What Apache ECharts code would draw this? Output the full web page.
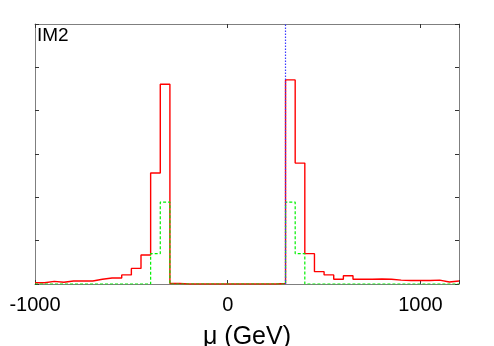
<!DOCTYPE html>
<html>
<head>
<meta charset="utf-8">
<script src="https://cdn.jsdelivr.net/npm/echarts@6/dist/echarts.min.js"></script>
<style>html,body{margin:0;padding:0;background:#fff;}#c{width:494px;height:346px;}</style>
</head>
<body>
<div id="c"></div>
<script>
// Bin left edges (GeV), bin width 50
const binEdges = [-1000,-950,-900,-850,-800,-750,-700,-650,-600,-550,-500,-450,-400,-350,-300,-250,-200,-150,-100,-50,
  0,50,100,150,200,250,300,350,400,450,500,550,600,650,700,750,800,850,900,950,1000,1050,1100,1150,1200];
const redValues = [0.03,0.06,0.04,0.07,0.07,0.07,0.11,0.14,0.14,0.21,0.36,0.67,2.56,4.61,0.01,0,0,0,0,0,
  0,0,0,0,0,0.01,4.71,2.79,0.70,0.285,0.21,0.11,0.19,0.11,0.11,0.115,0.11,0.09,0.08,0.08,0.08,0.09,0.045,0.07];
const greenValues = [0,0,0,0,0,0,0,0,0,0,0,0,0.70,1.89,0,0,0,0,0,0,
  0,0,0,0,0,0,1.89,0.70,0,0,0,0,0,0,0,0,0,0,0,0,0,0,0,0];
const xTickLabels = ['-1000','0','1000'];
const markerX = 297;
const panelLabel = 'IM2';
const xTitle = 'μ (GeV)';

function stepData(vals){
  const d = vals.map((v,i)=>[binEdges[i], v]);
  d.push([binEdges[vals.length], vals[vals.length-1]]);
  return d;
}

const chart = echarts.init(document.getElementById('c'), null, {renderer:'canvas'});
const axisGray = '#7f7f7f';
const FONT = 'Liberation Sans, Arial, Helvetica, sans-serif';
chart.setOption({
  animation:false,
  backgroundColor:'#fff',
  grid:{left:35,right:35,top:24,bottom:62,containLabel:false,outerBoundsMode:'none'},
  xAxis:[{
    type:'value', min:-1000, max:1200, interval:1000, position:'bottom',
    name:xTitle, nameLocation:'middle', nameGap:41,
    nameTextStyle:{fontFamily:FONT,fontSize:25,color:'#000'},
    axisLine:{onZero:false,lineStyle:{color:axisGray,width:1}},
    axisTick:{inside:true,length:4,lineStyle:{color:'#333'}},
    axisLabel:{fontFamily:FONT,fontSize:20,color:'#000',margin:11,
      formatter:function(v){const s=String(v);return xTickLabels.indexOf(s)>=0?s:'';}},
    splitLine:{show:false}
  },{
    type:'value', min:-1000, max:1200, interval:1000, position:'top',
    axisLine:{onZero:false,lineStyle:{color:axisGray,width:1}},
    axisTick:{inside:true,length:4,lineStyle:{color:'#333'}},
    axisLabel:{show:false}, splitLine:{show:false}
  }],
  yAxis:[{
    type:'value', min:0, max:6, interval:1, position:'left',
    axisLine:{show:true,onZero:false,lineStyle:{color:axisGray,width:1}},
    axisTick:{show:true,inside:true,length:4,lineStyle:{color:'#333'}},
    axisLabel:{show:false}, splitLine:{show:false}
  },{
    type:'value', min:0, max:6, interval:1, position:'right',
    axisLine:{show:true,onZero:false,lineStyle:{color:axisGray,width:1}},
    axisTick:{show:true,inside:true,length:4,lineStyle:{color:'#333'}},
    axisLabel:{show:false}, splitLine:{show:false}
  }],
  series:[{
    type:'line', step:'end', data:stepData(greenValues), showSymbol:false, silent:true,
    lineStyle:{color:'#00f000',width:1.2,type:[3,2]}, z:3
  },{
    type:'line', step:'end', data:stepData(redValues), showSymbol:false, silent:true,
    lineStyle:{color:'#ff0000',width:1.4}, z:2,
    markLine:{silent:true,symbol:['none','none'],label:{show:false},
      lineStyle:{color:'#3a3aff',type:[1.5,1.5],width:1.2},
      data:[{xAxis:markerX}]}
  }],
  graphic:[{type:'text',left:37,top:26,style:{text:panelLabel,font:'19px '+FONT,fill:'#000'}}]
});
</script>
</body>
</html>
